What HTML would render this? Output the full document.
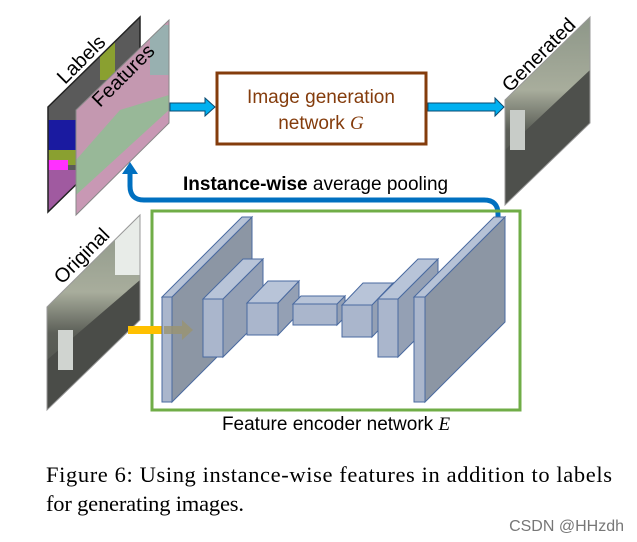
<!DOCTYPE html>
<html><head><style>
body{margin:0;background:#fff;width:637px;height:542px;overflow:hidden;position:relative}
svg{position:absolute;left:0;top:0}
</style></head><body>
<svg width="637" height="542" viewBox="0 0 637 542" xmlns="http://www.w3.org/2000/svg">
<defs>
<clipPath id="cl"><polygon points="48,107 140,17 140,122 48,212"/></clipPath>
<clipPath id="cf"><polygon points="76,110 169,20 169,123 76,215"/></clipPath>
<clipPath id="co"><polygon points="47,307 140,215 140,320 47,410"/></clipPath>
<clipPath id="cg"><polygon points="505,100 590,17 590,123 505,205"/></clipPath>
<linearGradient id="street" x1="0" y1="0" x2="0" y2="1">
<stop offset="0" stop-color="#8a9486"/><stop offset="0.4" stop-color="#a8ad9c"/><stop offset="0.6" stop-color="#5c5f58"/><stop offset="1" stop-color="#4a4c48"/></linearGradient>
</defs>
<g clip-path="url(#cl)">
<rect x="40" y="10" width="110" height="210" fill="#5a5a5a"/>
<rect x="48" y="120" width="40" height="40" fill="#1a1aa0"/>
<rect x="48" y="150" width="30" height="15" fill="#8aa030"/>
<rect x="48" y="160" width="20" height="15" fill="#ff30ff"/>
<rect x="48" y="170" width="92" height="40" fill="#a05aa0"/>
<rect x="100" y="20" width="15" height="60" fill="#8aa030"/>
</g>
<polygon points="48,107 140,17 140,122 48,212" fill="none" stroke="#222" stroke-width="1.5"/>
<g clip-path="url(#cf)">
<rect x="70" y="15" width="110" height="210" fill="#c498b0"/>
<polygon points="76,160 120,110 169,95 169,123 76,215" fill="#98b898"/>
<polygon points="76,195 169,110 169,123 76,215" fill="#c898b4"/>
<rect x="150" y="25" width="19" height="50" fill="#98b0b0"/>
</g>
<polygon points="76,110 169,20 169,123 76,215" fill="none" stroke="#888" stroke-width="1"/>
<text transform="translate(65,85) rotate(-45)" font-family="Liberation Sans,sans-serif" font-size="20" fill="#000">Labels</text>
<text transform="translate(100,108) rotate(-45)" font-family="Liberation Sans,sans-serif" font-size="20" fill="#000">Features</text>
<polygon points="170,103 205,103 205,98 215,107 205,116 205,111 170,111" fill="#00b0f0" stroke="#0a4a70" stroke-width="1"/>
<rect x="217" y="73" width="209" height="71" fill="#fff" stroke="#843c0c" stroke-width="3"/>
<text x="321" y="103" text-anchor="middle" font-family="Liberation Sans,sans-serif" font-size="19" fill="#843c0c">Image generation</text>
<text x="321" y="129" text-anchor="middle" font-family="Liberation Sans,sans-serif" font-size="19" fill="#843c0c">network <tspan font-family="Liberation Serif,serif" font-style="italic">G</tspan></text>
<polygon points="428,103 495,103 495,98 504,107 495,116 495,111 428,111" fill="#00b0f0" stroke="#0a4a70" stroke-width="1"/>
<g clip-path="url(#cg)">
<rect x="500" y="10" width="95" height="200" fill="url(#street)"/>
<polygon points="505,150 590,70 590,123 505,205" fill="#4e504c"/>
<rect x="510" y="110" width="15" height="40" fill="#c8ccc8"/>
</g>
<polygon points="505,100 590,17 590,123 505,205" fill="none" stroke="#999" stroke-width="1"/>
<text transform="translate(510,93) rotate(-45)" font-family="Liberation Sans,sans-serif" font-size="20" fill="#000">Generated</text>
<text x="183" y="190" font-family="Liberation Sans,sans-serif" font-size="19" fill="#000"><tspan font-weight="bold">Instance-wise</tspan> average pooling</text>
<path d="M498,218 L498,214 Q498,200 484,200 L144,200 Q130,200 130,186 L130,172" fill="none" stroke="#0070c0" stroke-width="5"/>
<polygon points="122,174 130,162 138,174" fill="#0070c0"/>
<rect x="152" y="211" width="368" height="199" fill="none" stroke="#70ad47" stroke-width="3"/>
<g clip-path="url(#co)">
<rect x="40" y="210" width="105" height="205" fill="url(#street)"/>
<polygon points="47,360 140,280 140,320 47,410" fill="#4a4c48"/>
<rect x="115" y="215" width="25" height="60" fill="#e8ece8"/>
<rect x="58" y="330" width="15" height="40" fill="#d0d4d0"/>
</g>
<polygon points="47,307 140,215 140,320 47,410" fill="none" stroke="#999" stroke-width="1"/>
<text transform="translate(62,285) rotate(-45)" font-family="Liberation Sans,sans-serif" font-size="20" fill="#000">Original</text>
<rect x="128" y="326" width="36" height="8" fill="#ffc000"/>
<g stroke="#4a6aa0" stroke-width="1">
<polygon points="172,297 252,217 252,322 172,402" fill="#8c96a4"/>
<polygon points="162,297 172,297 252,217 242,217" fill="#b6c2d6"/>
<rect x="162" y="297" width="10" height="105" fill="#aab6cc"/>
<polygon points="223,299 263,259 263,317 223,357" fill="#94a0b4"/>
<polygon points="203,299 223,299 263,259 243,259" fill="#b8c4d8"/>
<rect x="203" y="299" width="20" height="58" fill="#aab6cc"/>
<polygon points="278,303 299,281 299,313 278,335" fill="#94a0b4"/>
<polygon points="247,303 278,303 299,281 268,281" fill="#b8c4d8"/>
<rect x="247" y="303" width="31" height="32" fill="#aab6cc"/>
<polygon points="337,304 345,296 345,317 337,325" fill="#94a0b4"/>
<polygon points="293,304 337,304 345,296 301,296" fill="#b8c4d8"/>
<rect x="293" y="304" width="44" height="21" fill="#aab6cc"/>
<polygon points="372,305 393,283 393,315 372,337" fill="#94a0b4"/>
<polygon points="342,305 372,305 393,283 363,283" fill="#b8c4d8"/>
<rect x="342" y="305" width="30" height="32" fill="#aab6cc"/>
<polygon points="398,299 438,259 438,317 398,357" fill="#94a0b4"/>
<polygon points="378,299 398,299 438,259 418,259" fill="#b8c4d8"/>
<rect x="378" y="299" width="20" height="58" fill="#aab6cc"/>
<polygon points="425,297 505,217 505,322 425,402" fill="#8c96a4"/>
<polygon points="414,297 425,297 505,217 494,217" fill="#b6c2d6"/>
<rect x="414" y="297" width="11" height="105" fill="#aab6cc"/>
</g>
<polygon points="164,326 182,326 182,320 193,330 182,340 182,334 164,334" fill="#9a9470" opacity="0.8"/>
<text x="336" y="430" text-anchor="middle" font-family="Liberation Sans,sans-serif" font-size="19" fill="#000">Feature encoder network <tspan font-family="Liberation Serif,serif" font-style="italic">E</tspan></text>
<text x="46" y="482" font-family="Liberation Serif,serif" font-size="22.5" textLength="566" fill="#000">Figure 6: Using instance-wise features in addition to labels</text>
<text x="46" y="511" font-family="Liberation Serif,serif" font-size="22.5" textLength="198" fill="#000">for generating images.</text>
<text x="624" y="531" text-anchor="end" font-family="Liberation Sans,sans-serif" font-size="16" fill="#777">CSDN @HHzdh</text>
</svg>
</body></html>
